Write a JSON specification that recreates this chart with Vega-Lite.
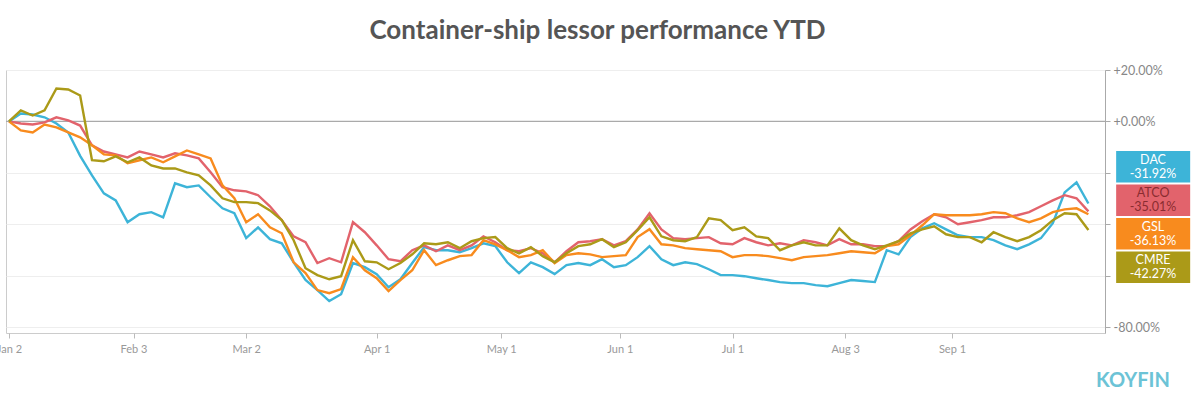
{
  "$schema": "https://vega.github.io/schema/vega-lite/v6.json",
  "width": 1099,
  "height": 263,
  "autosize": {"type": "none"},
  "padding": {"left": 6, "top": 70, "right": 95, "bottom": 64},
  "background": "white",
  "config": {
    "font": "Lato",
    "view": {"stroke": "#cccccc", "strokeWidth": 1},
    "locale": {"number": {"decimal": ".", "thousands": ",", "grouping": [3], "currency": ["$", ""], "minus": "-"}}
  },
  "title": {"text": "Container-ship lessor performance YTD", "fontSize": 26, "font": "Lato", "fontWeight": "bold", "color": "#555555", "anchor": "middle", "frame": "group", "dx": 42, "offset": 20},
  "datasets": {
    "prices": [
      {"t":0,"DAC":0,"ATCO":0,"GSL":0,"CMRE":0},
      {"t":2,"DAC":3.1,"ATCO":-0.8,"GSL":-3.5,"CMRE":4.3},
      {"t":4,"DAC":2.7,"ATCO":-1.2,"GSL":-4.3,"CMRE":2.3},
      {"t":6,"DAC":1.6,"ATCO":-0.4,"GSL":-1.2,"CMRE":4.3},
      {"t":8,"DAC":-0.8,"ATCO":1.6,"GSL":-2.3,"CMRE":12.8},
      {"t":10,"DAC":-4.3,"ATCO":0.4,"GSL":-4.3,"CMRE":12.4},
      {"t":12,"DAC":-13.4,"ATCO":-1.6,"GSL":-6.2,"CMRE":10.1},
      {"t":14,"DAC":-21.0,"ATCO":-9.3,"GSL":-9.3,"CMRE":-15.1},
      {"t":16,"DAC":-28.0,"ATCO":-11.7,"GSL":-12.8,"CMRE":-15.5},
      {"t":18,"DAC":-30.7,"ATCO":-12.8,"GSL":-13.2,"CMRE":-13.6},
      {"t":20,"DAC":-39.2,"ATCO":-14.0,"GSL":-16.3,"CMRE":-15.9},
      {"t":22,"DAC":-36.1,"ATCO":-11.7,"GSL":-15.1,"CMRE":-14.0},
      {"t":24,"DAC":-35.3,"ATCO":-12.8,"GSL":-14.0,"CMRE":-17.1},
      {"t":26,"DAC":-37.3,"ATCO":-14.0,"GSL":-15.9,"CMRE":-18.3},
      {"t":28,"DAC":-24.1,"ATCO":-12.4,"GSL":-13.6,"CMRE":-18.3},
      {"t":30,"DAC":-25.6,"ATCO":-13.2,"GSL":-11.3,"CMRE":-19.8},
      {"t":32,"DAC":-24.9,"ATCO":-14.4,"GSL":-12.8,"CMRE":-21.0},
      {"t":34,"DAC":-29.5,"ATCO":-19.8,"GSL":-14.4,"CMRE":-24.9},
      {"t":36,"DAC":-33.8,"ATCO":-25.6,"GSL":-24.9,"CMRE":-29.9},
      {"t":38,"DAC":-35.7,"ATCO":-26.8,"GSL":-29.9,"CMRE":-31.4},
      {"t":40,"DAC":-45.4,"ATCO":-27.2,"GSL":-39.2,"CMRE":-31.4},
      {"t":42,"DAC":-41.2,"ATCO":-28.7,"GSL":-36.1,"CMRE":-31.8},
      {"t":44,"DAC":-45.8,"ATCO":-33.0,"GSL":-41.2,"CMRE":-34.6},
      {"t":46,"DAC":-47.4,"ATCO":-38.4,"GSL":-43.5,"CMRE":-38.4},
      {"t":48,"DAC":-54.8,"ATCO":-44.7,"GSL":-54.8,"CMRE":-46.2},
      {"t":50,"DAC":-61.7,"ATCO":-47.0,"GSL":-59.0,"CMRE":-57.1},
      {"t":52,"DAC":-65.6,"ATCO":-55.1,"GSL":-65.6,"CMRE":-59.8},
      {"t":54,"DAC":-69.9,"ATCO":-53.2,"GSL":-66.8,"CMRE":-61.4},
      {"t":56,"DAC":-67.2,"ATCO":-54.8,"GSL":-65.2,"CMRE":-60.2},
      {"t":58,"DAC":-55.1,"ATCO":-39.2,"GSL":-52.8,"CMRE":-46.2},
      {"t":60,"DAC":-56.7,"ATCO":-43.1,"GSL":-57.9,"CMRE":-54.4},
      {"t":62,"DAC":-59.4,"ATCO":-48.2,"GSL":-61.0,"CMRE":-54.8},
      {"t":64,"DAC":-64.5,"ATCO":-53.6,"GSL":-66.0,"CMRE":-57.5},
      {"t":66,"DAC":-61.4,"ATCO":-54.4,"GSL":-61.7,"CMRE":-55.1},
      {"t":68,"DAC":-55.1,"ATCO":-50.1,"GSL":-57.9,"CMRE":-51.7},
      {"t":70,"DAC":-48.9,"ATCO":-48.2,"GSL":-50.1,"CMRE":-47.4},
      {"t":72,"DAC":-50.1,"ATCO":-50.5,"GSL":-55.9,"CMRE":-47.8},
      {"t":74,"DAC":-50.1,"ATCO":-48.2,"GSL":-54.0,"CMRE":-47.0},
      {"t":76,"DAC":-50.9,"ATCO":-50.1,"GSL":-52.4,"CMRE":-49.3},
      {"t":78,"DAC":-49.3,"ATCO":-48.2,"GSL":-52.0,"CMRE":-46.6},
      {"t":80,"DAC":-47.4,"ATCO":-44.7,"GSL":-46.2,"CMRE":-45.4},
      {"t":82,"DAC":-48.5,"ATCO":-47.0,"GSL":-47.8,"CMRE":-45.0},
      {"t":84,"DAC":-54.8,"ATCO":-50.1,"GSL":-50.1,"CMRE":-49.3},
      {"t":86,"DAC":-59.0,"ATCO":-50.5,"GSL":-52.8,"CMRE":-51.3},
      {"t":88,"DAC":-54.8,"ATCO":-49.3,"GSL":-52.0,"CMRE":-48.9},
      {"t":90,"DAC":-56.7,"ATCO":-51.3,"GSL":-50.1,"CMRE":-52.4},
      {"t":92,"DAC":-59.4,"ATCO":-54.8,"GSL":-55.1,"CMRE":-54.8},
      {"t":94,"DAC":-55.9,"ATCO":-50.5,"GSL":-52.0,"CMRE":-51.3},
      {"t":96,"DAC":-55.1,"ATCO":-47.0,"GSL":-51.3,"CMRE":-48.5},
      {"t":98,"DAC":-55.9,"ATCO":-46.6,"GSL":-51.7,"CMRE":-47.8},
      {"t":100,"DAC":-53.6,"ATCO":-45.8,"GSL":-52.8,"CMRE":-45.8},
      {"t":102,"DAC":-56.7,"ATCO":-48.2,"GSL":-52.4,"CMRE":-48.9},
      {"t":104,"DAC":-55.9,"ATCO":-46.6,"GSL":-52.0,"CMRE":-47.0},
      {"t":106,"DAC":-52.8,"ATCO":-42.0,"GSL":-45.0,"CMRE":-42.3},
      {"t":108,"DAC":-48.5,"ATCO":-35.7,"GSL":-41.9,"CMRE":-37.3},
      {"t":110,"DAC":-53.6,"ATCO":-42.0,"GSL":-47.8,"CMRE":-44.7},
      {"t":112,"DAC":-55.9,"ATCO":-45.4,"GSL":-48.2,"CMRE":-46.2},
      {"t":114,"DAC":-54.8,"ATCO":-45.8,"GSL":-49.3,"CMRE":-46.6},
      {"t":116,"DAC":-55.5,"ATCO":-45.4,"GSL":-49.7,"CMRE":-45.0},
      {"t":118,"DAC":-57.5,"ATCO":-45.0,"GSL":-50.1,"CMRE":-37.7},
      {"t":120,"DAC":-59.8,"ATCO":-47.4,"GSL":-50.5,"CMRE":-38.4},
      {"t":122,"DAC":-59.8,"ATCO":-47.8,"GSL":-52.8,"CMRE":-42.3},
      {"t":124,"DAC":-60.2,"ATCO":-45.4,"GSL":-52.0,"CMRE":-41.2},
      {"t":126,"DAC":-61.0,"ATCO":-47.0,"GSL":-52.0,"CMRE":-44.7},
      {"t":128,"DAC":-61.7,"ATCO":-48.2,"GSL":-52.4,"CMRE":-45.4},
      {"t":130,"DAC":-62.5,"ATCO":-47.4,"GSL":-53.2,"CMRE":-50.1},
      {"t":132,"DAC":-62.9,"ATCO":-48.2,"GSL":-54.0,"CMRE":-48.2},
      {"t":134,"DAC":-62.9,"ATCO":-46.2,"GSL":-52.8,"CMRE":-47.0},
      {"t":136,"DAC":-63.7,"ATCO":-47.0,"GSL":-52.4,"CMRE":-48.2},
      {"t":138,"DAC":-64.1,"ATCO":-48.2,"GSL":-52.0,"CMRE":-48.2},
      {"t":140,"DAC":-62.9,"ATCO":-45.8,"GSL":-51.3,"CMRE":-41.6},
      {"t":142,"DAC":-61.7,"ATCO":-47.8,"GSL":-50.5,"CMRE":-46.2},
      {"t":144,"DAC":-62.1,"ATCO":-47.8,"GSL":-50.9,"CMRE":-48.2},
      {"t":146,"DAC":-62.5,"ATCO":-48.5,"GSL":-51.3,"CMRE":-49.7},
      {"t":148,"DAC":-50.1,"ATCO":-48.5,"GSL":-48.5,"CMRE":-48.2},
      {"t":150,"DAC":-51.7,"ATCO":-46.6,"GSL":-47.8,"CMRE":-46.6},
      {"t":152,"DAC":-45.0,"ATCO":-42.0,"GSL":-44.3,"CMRE":-43.5},
      {"t":154,"DAC":-41.6,"ATCO":-38.8,"GSL":-40.4,"CMRE":-42.0},
      {"t":156,"DAC":-39.6,"ATCO":-36.1,"GSL":-36.1,"CMRE":-40.8},
      {"t":158,"DAC":-42.0,"ATCO":-37.3,"GSL":-36.5,"CMRE":-43.9},
      {"t":160,"DAC":-44.3,"ATCO":-40.0,"GSL":-36.5,"CMRE":-45.0},
      {"t":162,"DAC":-45.0,"ATCO":-39.2,"GSL":-36.5,"CMRE":-45.0},
      {"t":164,"DAC":-45.0,"ATCO":-38.4,"GSL":-36.1,"CMRE":-47.0},
      {"t":166,"DAC":-46.2,"ATCO":-37.3,"GSL":-35.3,"CMRE":-43.1},
      {"t":168,"DAC":-48.2,"ATCO":-37.3,"GSL":-35.7,"CMRE":-45.0},
      {"t":170,"DAC":-49.7,"ATCO":-36.5,"GSL":-37.7,"CMRE":-46.6},
      {"t":172,"DAC":-47.8,"ATCO":-35.3,"GSL":-39.2,"CMRE":-45.0},
      {"t":174,"DAC":-45.4,"ATCO":-33.0,"GSL":-37.7,"CMRE":-42.3},
      {"t":176,"DAC":-39.6,"ATCO":-30.7,"GSL":-35.3,"CMRE":-38.4},
      {"t":178,"DAC":-27.6,"ATCO":-28.7,"GSL":-34.2,"CMRE":-35.7},
      {"t":180,"DAC":-23.7,"ATCO":-29.9,"GSL":-33.8,"CMRE":-36.1},
      {"t":182,"DAC":-31.92,"ATCO":-35.01,"GSL":-36.13,"CMRE":-42.27}
    ],
    "last": [
      {"ticker":"DAC","last":-0.3192},
      {"ticker":"ATCO","last":-0.3501},
      {"ticker":"GSL","last":-0.3613},
      {"ticker":"CMRE","last":-0.4227}
    ]
  },
  "layer": [
    {
      "layer": [
        {
          "data": {"values": [{"base": 0}]},
          "mark": {"type": "rule", "color": "#aaaaaa", "strokeWidth": 1.3},
          "encoding": {
            "y": {"field": "base", "type": "quantitative", "scale": {"domain": [-82.3, 20], "nice": false, "zero": false}}
          }
        },
        {
          "data": {"name": "prices"},
          "transform": [{"fold": ["DAC", "ATCO", "GSL", "CMRE"], "as": ["ticker", "value"]}],
          "mark": {"type": "line", "strokeWidth": 2.4, "clip": true},
          "encoding": {
            "x": {
              "field": "t", "type": "quantitative",
              "scale": {"domain": [-0.5, 184.8], "nice": false, "zero": false},
              "axis": {
                "values": [0, 21, 40, 62, 83, 103, 122, 141, 159],
                "labelExpr": "['Jan 2','Feb 3','Mar 2','Apr 1','May 1','Jun 1','Jul 1','Aug 3','Sep 1'][indexof([0,21,40,62,83,103,122,141,159], datum.value)]",
                "grid": false, "domain": false, "tickColor": "#bbbbbb", "tickSize": 5,
                "labelColor": "#999999", "labelFontSize": 11, "labelPadding": 5,
                "labelFlush": false, "labelOverlap": false, "title": null
              }
            },
            "y": {
              "field": "value", "type": "quantitative",
              "scale": {"domain": [-82.3, 20], "nice": false, "zero": false},
              "axis": {
                "orient": "right",
                "values": [20, 0, -20, -40, -60, -80],
                "labelExpr": "datum.value == 20 ? '+20.00%' : datum.value == 0 ? '+0.00%' : datum.value == -80 ? '-80.00%' : ''",
                "grid": true, "gridColor": "#eeeeee", "domainColor": "#aaaaaa", "tickColor": "#aaaaaa", "tickSize": 5,
                "labelColor": "#888888", "labelFontSize": 12.5, "labelPadding": 3, "labelFlush": false, "labelOverlap": false, "title": null
              }
            },
            "color": {
              "field": "ticker", "type": "nominal",
              "scale": {"domain": ["DAC", "ATCO", "GSL", "CMRE"], "range": ["#3db4d8", "#e2636c", "#f88b1e", "#ab9a18"]},
              "legend": null
            }
          }
        },
        {
          "data": {"values": [{"brand": "KOYFIN"}]},
          "mark": {"type": "text", "font": "Lato", "fontSize": 20, "fontWeight": "bold", "color": "#6cc3d6", "align": "center", "baseline": "middle"},
          "encoding": {
            "x": {"datum": 189.5},
            "y": {"datum": -101},
            "text": {"field": "brand"}
          }
        }
      ]
    },
    {
      "data": {"name": "last"},
      "encoding": {
        "y": {
          "field": "ticker", "type": "nominal",
          "scale": {"domain": ["DAC", "ATCO", "GSL", "CMRE"], "range": [81, 213], "paddingInner": 0.06, "paddingOuter": 0},
          "axis": null
        }
      },
      "layer": [
        {
          "mark": {"type": "rect"},
          "encoding": {
            "x": {"datum": 186.68},
            "x2": {"datum": 199.16},
            "color": {"field": "ticker", "type": "nominal", "legend": null}
          }
        },
        {
          "mark": {"type": "text", "font": "Lato", "fontSize": 12.5, "dy": -7, "align": "center", "baseline": "middle"},
          "encoding": {
            "x": {"datum": 192.9},
            "text": {"field": "ticker"},
            "color": {"condition": {"test": "datum.ticker === 'ATCO'", "value": "#8a2c30"}, "value": "#ffffff"}
          }
        },
        {
          "mark": {"type": "text", "font": "Lato", "fontSize": 12.5, "dy": 7, "align": "center", "baseline": "middle"},
          "encoding": {
            "x": {"datum": 192.9},
            "text": {"field": "last", "type": "quantitative", "format": ".2%"},
            "color": {"condition": {"test": "datum.ticker === 'ATCO'", "value": "#8a2c30"}, "value": "#ffffff"}
          }
        }
      ]
    }
  ],
  "resolve": {"scale": {"y": "independent"}, "axis": {"y": "independent"}}
}
